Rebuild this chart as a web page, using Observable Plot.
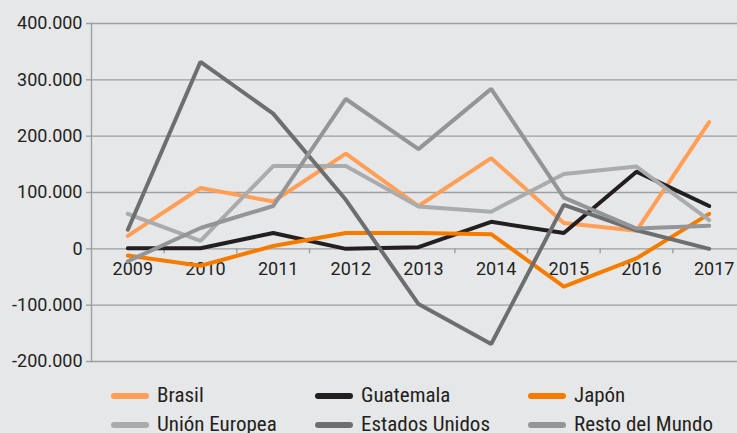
<!DOCTYPE html>
<html><head><meta charset="utf-8">
<script src="https://cdn.jsdelivr.net/npm/d3@7"></script>
<script src="https://cdn.jsdelivr.net/npm/@observablehq/plot@0.6"></script>
<style>
html,body{margin:0;padding:0;background:#e6e7e8;}
#chart{position:relative;width:737px;height:433px;overflow:hidden;font-family:Roboto,sans-serif;color:#231f20;}
#chart svg{display:block;}
.legend{position:absolute;left:111px;top:381px;display:grid;grid-template-columns:204px 213px 200px;grid-auto-rows:29px;}
.item{display:flex;align-items:center;white-space:nowrap;}
.sw{width:38px;height:6px;border-radius:3px;margin-right:8px;flex:none;}
.lbl{font-family:"Roboto Condensed",Roboto,sans-serif;font-size:21px;line-height:29px;color:#231f20;}
</style></head><body><div id="chart"></div>
<script>
const years = [2009, 2010, 2011, 2012, 2013, 2014, 2015, 2016, 2017];
const seriesNames = ["Brasil", "Guatemala", "Japón", "Unión Europea", "Estados Unidos", "Resto del Mundo"];
const seriesColors = ["#ff9f55", "#231f20", "#f57c00", "#aaabad", "#6d6e70", "#939598"];
const brasil        = [23000, 108000, 84000, 169000, 76000, 161000, 46000, 32000, 225000];
const guatemala     = [1000, 1000, 28000, 0, 3000, 48000, 28000, 137000, 76000];
const japon         = [-12000, -30000, 5000, 28000, 28000, 26000, -67000, -17000, 62000];
const unionEuropea  = [62000, 14000, 147000, 147000, 75000, 66000, 133000, 146000, 51000];
const estadosUnidos = [34000, 332000, 240000, 87000, -98000, -169000, 78000, 33000, 0];
const restoMundo    = [-22000, 37000, 76000, 266000, 177000, 284000, 91000, 36000, 41000];
const yTicks = [-200000, -100000, 0, 100000, 200000, 300000, 400000];

const seriesValues = [brasil, guatemala, japon, unionEuropea, estadosUnidos, restoMundo];
const data = seriesNames.flatMap((name, i) => years.map((year, j) => ({name, year, value: seriesValues[i][j]})));
const bounds = years.slice(0, -1).map(y => y + 0.5);
const fmt = d => d3.format(",")(d).replace(/,/g, ".").replace("\u2212", "-");
const gridColor = "#9d9ea0";

const plot = Plot.plot({
  width: 737, height: 372,
  marginLeft: 91, marginRight: 0, marginTop: 23, marginBottom: 11,
  style: {background: "transparent", fontFamily: "Roboto, sans-serif", fontSize: "18px", color: "#231f20", overflow: "visible"},
  x: {type: "linear", axis: null, domain: [years[0] - 0.5, years[years.length - 1] + 0.5], range: [91, 745]},
  y: {axis: null, domain: [yTicks[0], yTicks[yTicks.length - 1]]},
  color: {domain: seriesNames, range: seriesColors},
  marks: [
    Plot.gridY(yTicks, {stroke: gridColor, strokeOpacity: 1, strokeWidth: 1.4}),
    Plot.axisY(yTicks, {tickSize: 5, tickPadding: 4, tickFormat: fmt, stroke: gridColor, strokeWidth: 1.4, label: null, fill: "#231f20"}),
    Plot.frame({anchor: "left", stroke: gridColor, strokeWidth: 1.4}),
    Plot.ruleX(bounds, {x: d => d, y1: d => 0, y2: d => 0, insetBottom: -5, stroke: gridColor, strokeWidth: 1.4}),
    Plot.text(years, {x: d => d, y: d => 0, text: d => String(d), dx: 5, dy: 20, fill: "#231f20", fontSize: 18}),
    Plot.line(data, {x: "year", y: "value", z: "name", stroke: "name", strokeWidth: 4, strokeLinecap: "round", strokeLinejoin: "miter"})
  ]
});
const chart = document.getElementById("chart");
chart.appendChild(plot);

const legend = document.createElement("div");
legend.className = "legend";
seriesNames.forEach((name, i) => {
  const it = document.createElement("div");
  it.className = "item";
  it.innerHTML = `<span class="sw" style="background:${seriesColors[i]}"></span><span class="lbl">${name}</span>`;
  legend.appendChild(it);
});
chart.appendChild(legend);
</script>
</body></html>
